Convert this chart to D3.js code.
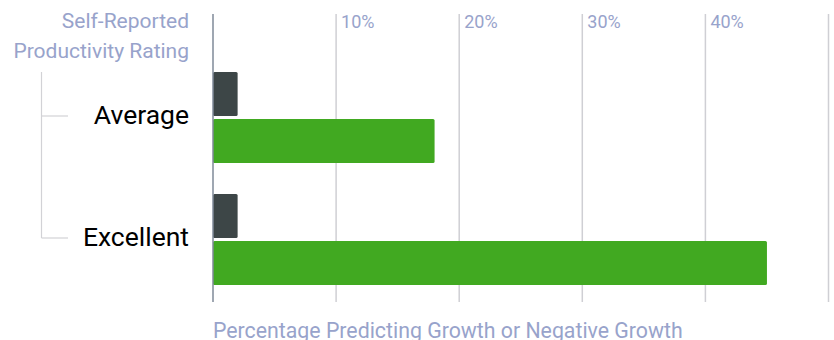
<!DOCTYPE html>
<html>
<head>
<meta charset="utf-8">
<script src="https://cdn.jsdelivr.net/npm/d3@7"></script>
<style>
  html, body { margin: 0; padding: 0; background: #fff; }
  svg { display: block; font-family: Roboto, "Noto Sans", sans-serif; }
</style>
</head>
<body>
<svg id="chart" width="834" height="340"></svg>
<script>
const categories = ["Average", "Excellent"];
const seriesNames = ["Negative Growth", "Growth"];
const negativeGrowth = [2, 2];
const growth = [18, 45];
const tickValues = [10, 20, 30, 40, 50];
const tickLabels = ["10%", "20%", "30%", "40%", ""];
const yTitleLines = ["Self-Reported", "Productivity Rating"];
const xTitle = "Percentage Predicting Growth or Negative Growth";
const colors = ["#3d4647", "#41a921"];

const svg = d3.select("#chart");
const x = d3.scaleLinear().domain([0, 50]).range([213, 828.5]);
const y0 = d3.scaleBand().domain(categories).range([72, 285]).paddingInner(0.254).paddingOuter(0);
const y1 = d3.scaleBand().domain(seriesNames).range([0, y0.bandwidth()]).paddingInner(0.064).paddingOuter(0);

const gridTop = 14, gridBottom = 302;

// gridlines
svg.append("g").selectAll("line").data(tickValues).join("line")
  .attr("x1", d => x(d)).attr("x2", d => x(d))
  .attr("y1", gridTop).attr("y2", gridBottom)
  .attr("stroke", "#cfcfd4").attr("stroke-width", 1.5);

// tick labels
svg.append("g").selectAll("text").data(tickValues).join("text")
  .attr("x", d => x(d) + 5).attr("y", 28)
  .attr("font-size", 18).attr("fill", "#98a3cb")
  .text((d, i) => tickLabels[i]);

// bars
const rows = categories.map((c, i) => ({ cat: c, vals: [negativeGrowth[i], growth[i]] }));
const g = svg.append("g").selectAll("g").data(rows).join("g")
  .attr("transform", d => `translate(0,${y0(d.cat)})`);
g.selectAll("rect").data(d => d.vals.map((v, j) => ({ v, s: seriesNames[j], j }))).join("rect")
  .attr("x", x(0)).attr("y", d => y1(d.s))
  .attr("width", d => x(d.v) - x(0)).attr("height", y1.bandwidth())
  .attr("rx", 1.5).attr("fill", d => colors[d.j]);

// axis line
svg.append("line").attr("x1", x(0)).attr("x2", x(0)).attr("y1", gridTop).attr("y2", gridBottom)
  .attr("stroke", "#7f8a99").attr("stroke-width", 1.5);

// category labels
svg.append("g").selectAll("text").data(categories).join("text")
  .attr("x", 189).attr("y", d => y0(d) + y0.bandwidth() / 2 + 6.5)
  .attr("text-anchor", "end").attr("font-size", 26.5).attr("fill", "#000")
  .text(d => d);

// bracket
const bx = 41.5, bxe = 68;
const lastMid = y0(categories[categories.length - 1]) + y0.bandwidth() / 2;
svg.append("line").attr("x1", bx).attr("x2", bx).attr("y1", y0(categories[0])).attr("y2", lastMid - 1.5)
  .attr("stroke", "#d2d2d6").attr("stroke-width", 1.2);
svg.append("g").selectAll("line").data(categories).join("line")
  .attr("x1", bx).attr("x2", bxe)
  .attr("y1", d => y0(d) + y0.bandwidth() / 2 - 1.5)
  .attr("y2", d => y0(d) + y0.bandwidth() / 2 - 1.5)
  .attr("stroke", "#d2d2d6").attr("stroke-width", 1.2);

// y title
svg.append("text").attr("text-anchor", "end").attr("font-size", 21).attr("fill", "#98a3cb")
  .selectAll("tspan").data(yTitleLines).join("tspan")
  .attr("x", 189).attr("y", (d, i) => 28 + i * 29.5).text(d => d);

// x title
svg.append("text").attr("x", 213).attr("y", 338).attr("font-size", 21.3).attr("fill", "#98a3cb")
  .text(xTitle);
</script>
</body>
</html>
